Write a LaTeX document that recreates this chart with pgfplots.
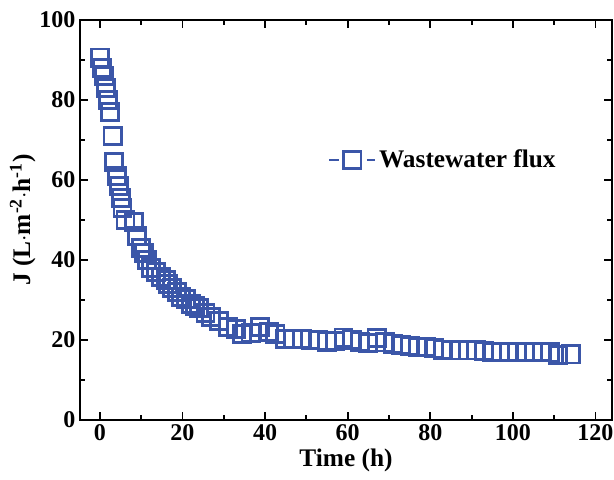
\documentclass[border=0pt]{standalone}
\usepackage{fontspec}
\setmainfont{Liberation Serif}
\usepackage{pgfplots}
\pgfplotsset{compat=1.18}
\usetikzlibrary{calc}
\definecolor{fluxblue}{RGB}{59,86,168}
\begin{document}
\begin{tikzpicture}
\begin{axis}[
  name=ax,
  scale only axis,
  width=399pt, height=300pt,
  xmin=-4.8, xmax=124, ymin=0, ymax=100,
  xtick={0,20,...,120}, ytick={0,20,...,100},
  minor x tick num=1, minor y tick num=1,
  tick align=inside,
  major tick length=6pt, minor tick length=3.5pt,
  every tick/.style={black, line width=1.4pt},
  axis line style={line width=1.8pt},
  /pgf/number format/assume math mode=true,
  tick label style={font=\bfseries\fontsize{18}{18}\selectfont},
  xlabel={Time (h)}, ylabel={J (L$\cdot$m\textsuperscript{-2}$\cdot$h\textsuperscript{-1})},
  label style={font=\bfseries\fontsize{19}{19}\selectfont},
  xlabel style={yshift=1pt},
  ylabel style={yshift=-4pt},
  legend style={at={(axis cs:55.3,65)}, anchor=west, draw=none, fill=none, inner sep=0pt,
    font=\bfseries\fontsize{19}{19}\selectfont},
  legend cell align=left,
  legend image code/.code={
    \draw[#1, mark=none, line width=1.4pt] (0pt,0pt) -- (6.8pt,0pt);
    \draw[#1, mark=none, line width=1.4pt] (28pt,0pt) -- (34.5pt,0pt);
    \draw[#1, only marks] plot coordinates {(17.2pt,0pt)};
  },
]
\addplot[only marks, mark=square, mark size=6.4pt, color=fluxblue,
  mark options={line width=2.1pt, fill=white}] coordinates {
(0.1,90.6)(0.6,88)(1.1,86)(1.5,83)(2.0,80)(2.4,77)(3.1,71)(3.5,64.5)(4.1,61)(4.6,58.5)
(5.1,55.5)(5.5,53)(6.2,50)(8.2,49.5)(9.0,46)(10.0,43)(10.7,41.7)(11.4,40)(12.4,38)(13.6,37)
(14.8,35.7)(16.0,35)(16.5,34)(17.5,33)(18.7,32)(19.6,30.8)(20.8,30.2)(22.0,29)(23.0,28.5)(24.0,28)
(25.6,26.7)(26.9,25.8)(28.8,24.7)(31.0,23.3)(33.0,22.7)(34.5,21.5)(36.5,21.8)(38.8,23.3)(41,22)(42.5,21.5)
(44.8,20.2)(46.8,20.2)(49,20.3)(51,20.1)(52.8,19.9)(55,19.6)(57,19.8)(59,20.6)(61,20.1)(63,19.6)
(65,19.2)(67,20.5)(69,19.4)(71,19.1)(73,18.8)(75,18.5)(77,18.3)(79,18.2)(81,17.9)(83,17.6)
(85,17.4)(87,17.4)(89,17.4)(91,17.4)(93,17.3)(95,17.0)(97,17.0)(99,17.0)(101,17.0)(103,17.0)
(105,17.0)(107,17.0)(109,16.9)(111,16.2)(114,16.4)
};
\addlegendentry{Wastewater flux}
\end{axis}
\pgfresetboundingbox
\path[use as bounding box] ($(ax.south west)+(-60pt,-44.25pt)$) rectangle ($(ax.north east)+(1.5pt,15pt)$);
\end{tikzpicture}
\end{document}
